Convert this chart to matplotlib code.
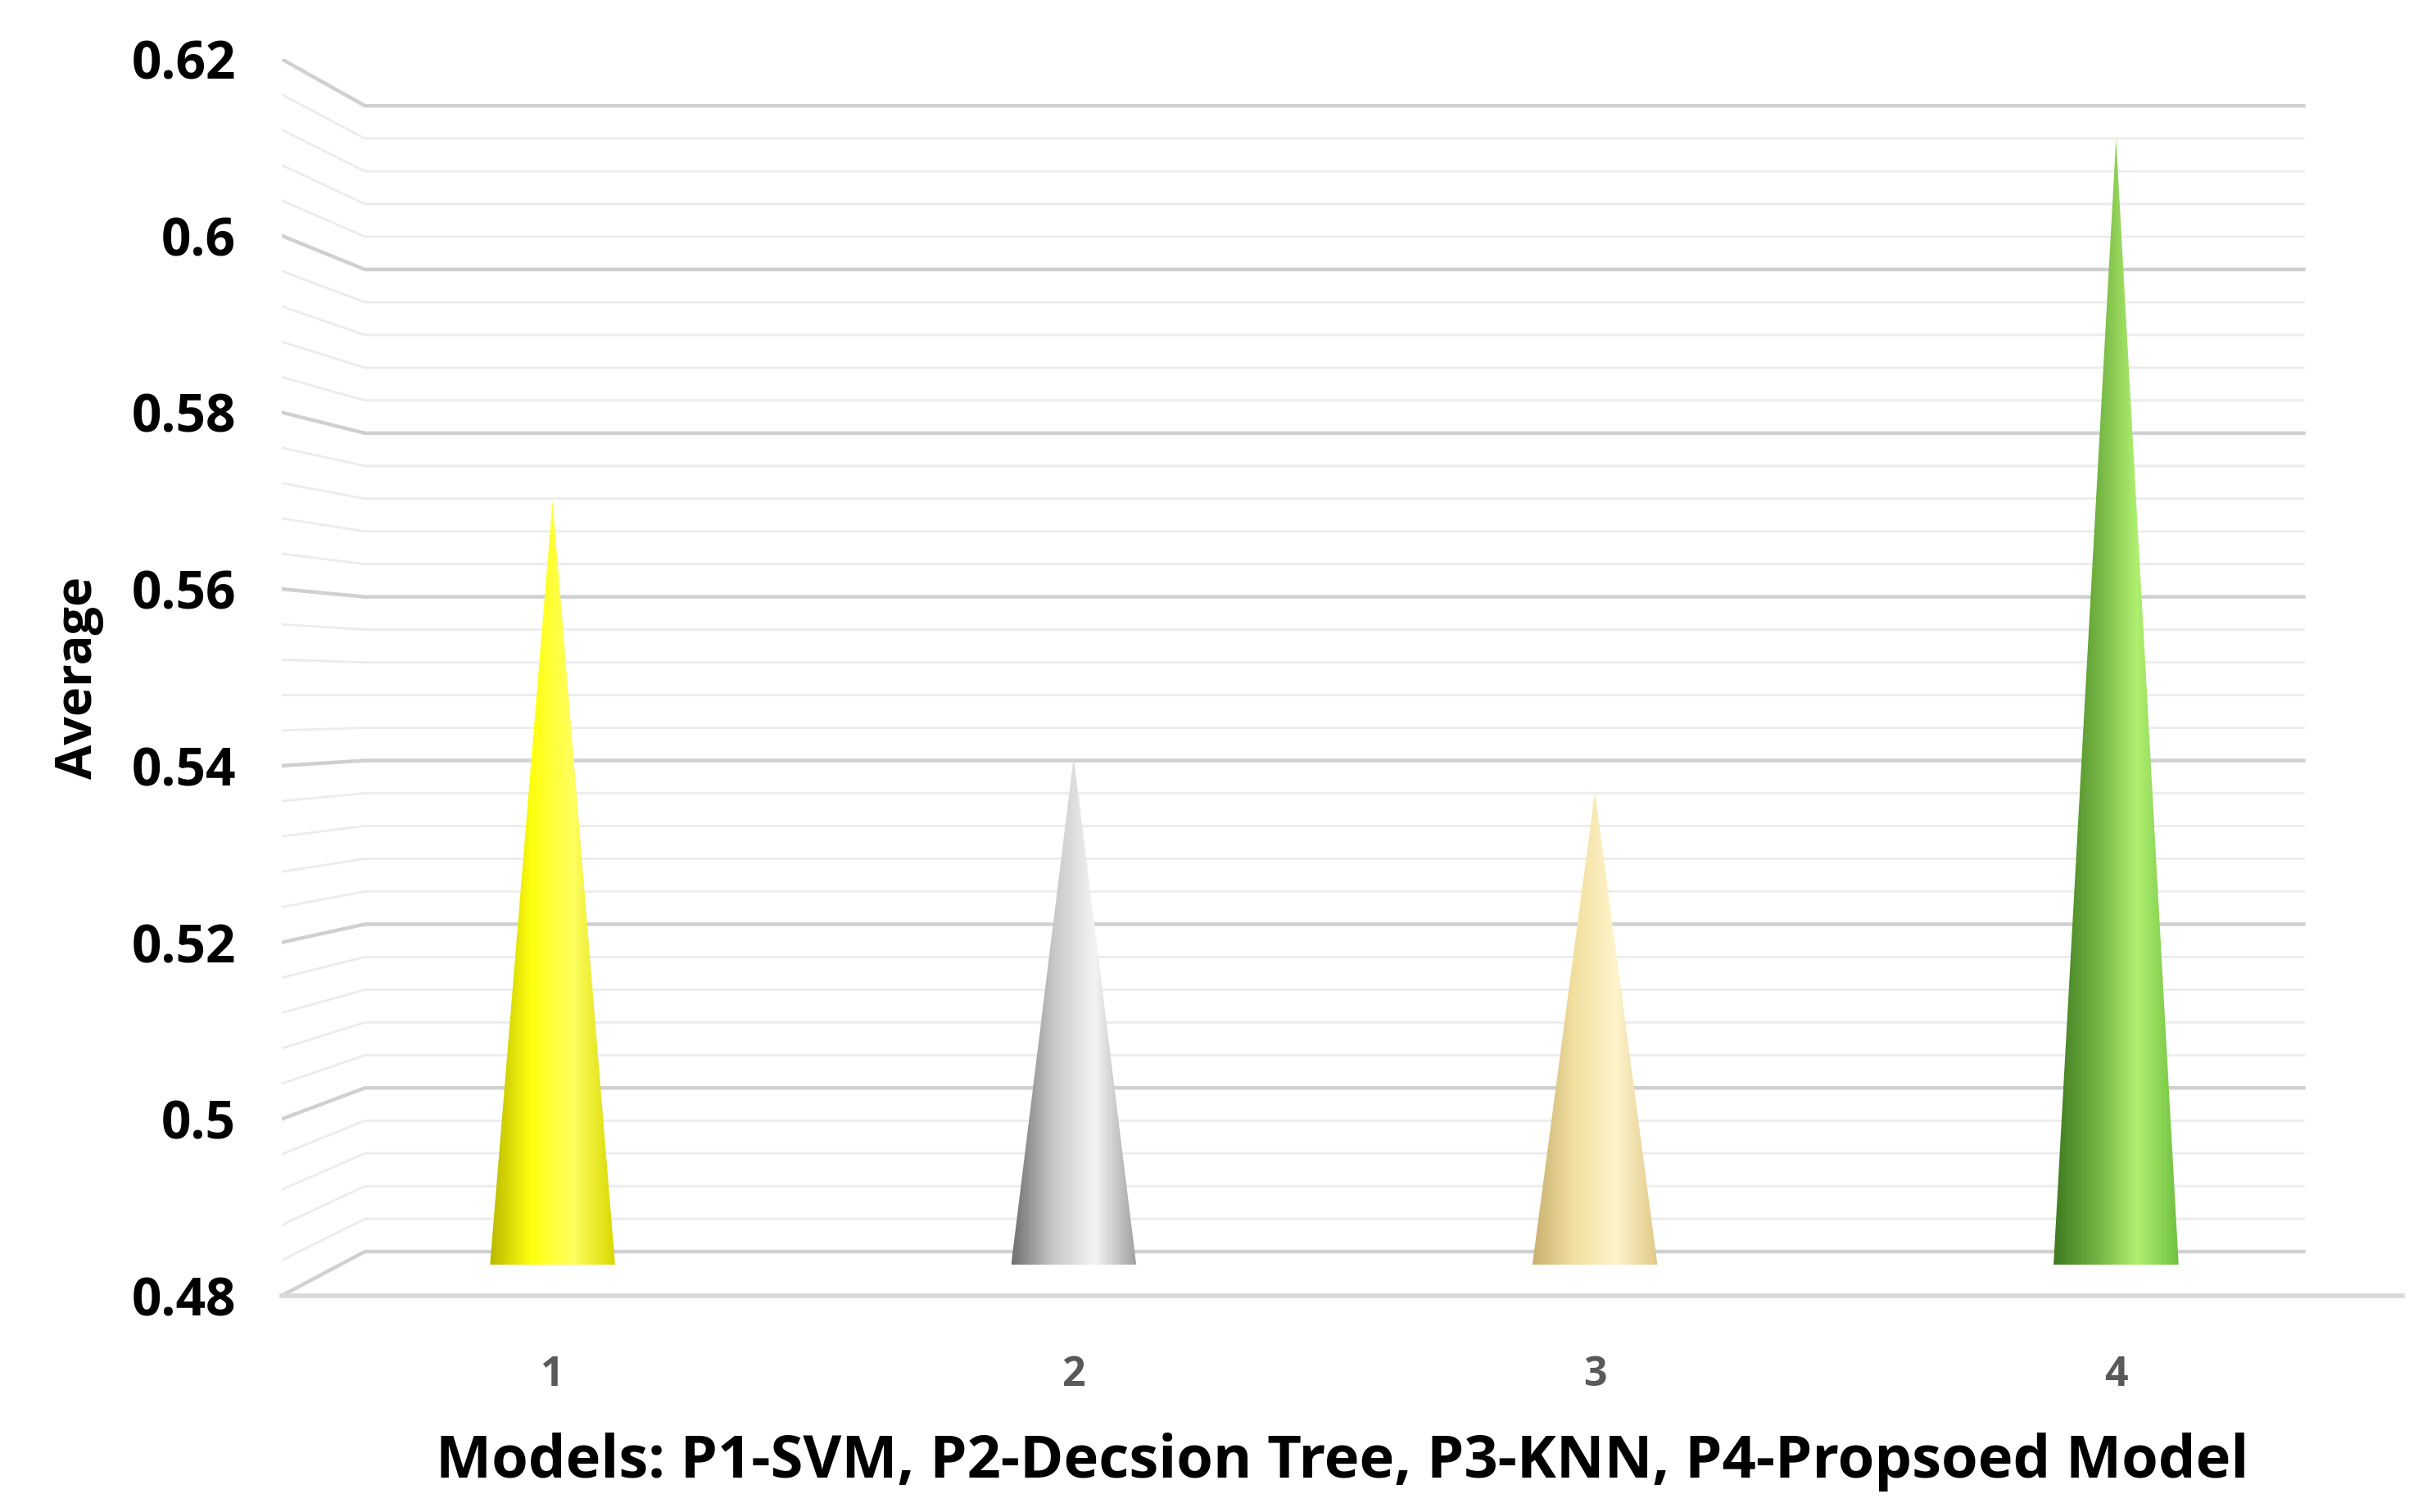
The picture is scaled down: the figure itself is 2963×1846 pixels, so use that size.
import numpy as np
import matplotlib
matplotlib.use("Agg")
import matplotlib.pyplot as plt
from matplotlib.patches import Polygon
from matplotlib.colors import LinearSegmentedColormap

categories = ["1", "2", "3", "4"]
values = [0.570, 0.541, 0.537, 0.611]
yticks = [0.48, 0.5, 0.52, 0.54, 0.56, 0.58, 0.6, 0.62]
ytick_labels = ["0.48", "0.5", "0.52", "0.54", "0.56", "0.58", "0.6", "0.62"]
colors = [["#b8b800", "#ffff10", "#ffff60", "#d8d800"],
          ["#707070", "#c8c8c8", "#f4f4f4", "#a0a0a0"],
          ["#c8b070", "#f2e0a0", "#fff4cc", "#e0c888"],
          ["#3f7a20", "#6fb040", "#b0f070", "#70c040"]]

plt.rcParams['font.family'] = ['Open Sans', 'DejaVu Sans']
fig = plt.figure(figsize=(14.815, 9.23), dpi=200)
ax = fig.add_axes([0.116, 0.143, 0.874, 0.818])
ymin, ymax = 0.48, 0.62
x0, x1 = 0.48, 4.55
ax.set_xlim(x0, x1)
ax.set_ylim(ymin, ymax)
for s in ax.spines.values():
    s.set_visible(False)

def back(v):
    f = (v - ymin) / (ymax - ymin)
    return ymin + 0.005 + f * (ymax - ymin - 0.0103)

xw = x0 + 0.16
xr = 4.36
minor = np.arange(ymin, ymax + 1e-9, 0.004)
for v in minor:
    ax.plot([x0, xw, xr], [v, back(v), back(v)], color="#ececec", lw=1.0, zorder=1)
for t in yticks:
    ax.plot([x0, xw, xr], [t, back(t), back(t)], color="#d0d0d0", lw=1.6, zorder=1)
ax.plot([x0, x1], [ymin, ymin], color="#d9d9d9", lw=2, zorder=1, clip_on=False)

base = 0.4835
hw = 0.12
for i, (v, cl) in enumerate(zip(values, colors)):
    xc = i + 1
    cmap = LinearSegmentedColormap.from_list("c%d" % i, cl)
    grad = np.linspace(0, 1, 256).reshape(1, -1)
    im = ax.imshow(grad, cmap=cmap, aspect="auto",
                   extent=[xc - hw, xc + hw, base, v], zorder=3)
    poly = Polygon([[xc - hw, base], [xc + hw, base], [xc, v]], closed=True,
                   facecolor="none", edgecolor="none")
    ax.add_patch(poly)
    im.set_clip_path(poly)

ax.set_xticks([1, 2, 3, 4])
ax.set_xticklabels(categories, fontsize=18, fontweight="bold", color="#595959")
ax.set_yticks(yticks)
ax.set_yticklabels(ytick_labels, fontsize=23, fontweight="bold", color="black")
ax.tick_params(length=0)
ax.tick_params(axis="x", pad=26)
ax.tick_params(axis="y", pad=20)
ax.set_xlim(x0, x1)
ax.set_ylim(ymin, ymax)
ax.set_xlabel("Models: P1-SVM, P2-Decsion Tree, P3-KNN, P4-Propsoed Model",
              fontsize=26, fontweight="bold", labelpad=16)
ax.set_ylabel("Average", fontsize=22, fontweight="bold", labelpad=12)
fig.savefig("out.png", dpi=200, facecolor="white")
